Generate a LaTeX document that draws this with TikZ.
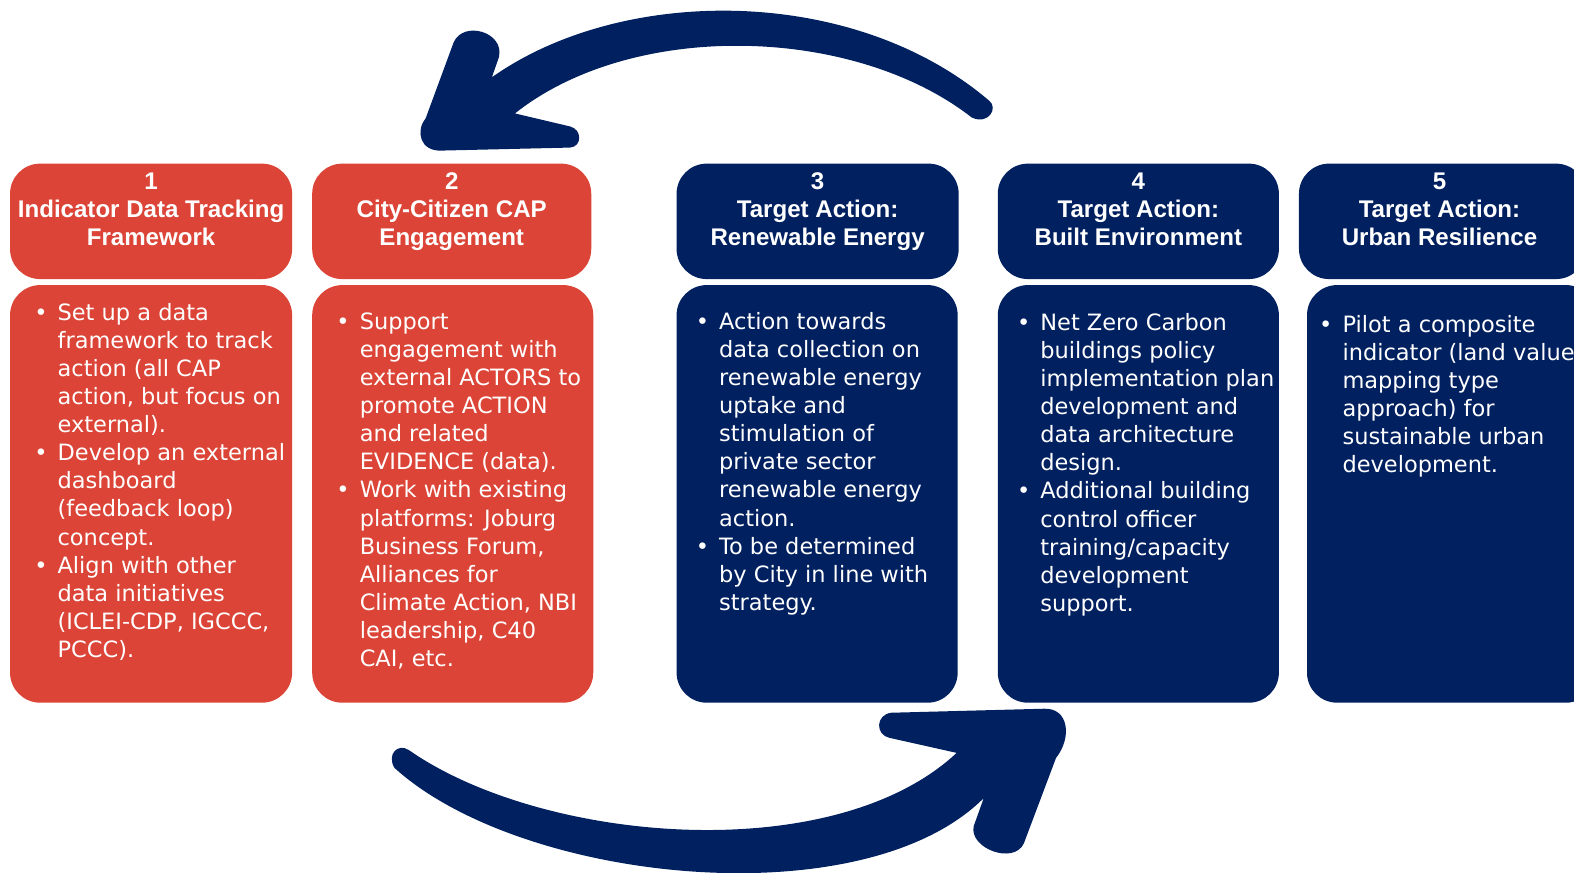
\documentclass[tikz,border=0pt]{standalone}
\usepackage{fontspec}
\setmainfont{DejaVu Sans}
\newfontfamily\hdrfont{Liberation Sans}
\definecolor{capred}{HTML}{DB4436}
\definecolor{capnavy}{HTML}{002060}
\tikzset{
  box/.style={rounded corners=15pt, inner sep=0pt, draw=none},
  redbox/.style={box, fill=capred},
  navybox/.style={box, fill=capnavy},
  hdrtext/.style={text=white, align=center, font=\hdrfont\bfseries\fontsize{12pt}{14pt}\selectfont, inner sep=0pt, anchor=base},
  bodytext/.style={text=white, align=left, font=\fontsize{11.2pt}{14pt}\selectfont, inner sep=0pt, anchor=base west},
  cyclearrow/.style={fill=capnavy, draw=none}
}
\newcommand{\bul}{\llap{\textbullet\hspace{5pt}}}
\begin{document}
\begin{tikzpicture}[x=0.5pt,y=-0.5pt]
\useasboundingbox (0,0) rectangle (1568,869);
\clip (0,0) rectangle (1568,869);
% header boxes
\node[redbox, minimum width=140.5pt, minimum height=57.5pt] (h1) at (150.5,220.5) {};
\node[redbox, minimum width=139pt, minimum height=57.5pt] (h2) at (450,220.5) {};
\node[navybox, minimum width=140.5pt, minimum height=57.5pt] (h3) at (814.5,220.5) {};
\node[navybox, minimum width=140pt, minimum height=57.5pt] (h4) at (1134,220.5) {};
\node[navybox, minimum width=143pt, minimum height=57.5pt] (h5) at (1437,220.5) {};
% body boxes
\node[redbox, minimum width=140.5pt, minimum height=208pt] (b1) at (150.5,492) {};
\node[redbox, minimum width=140pt, minimum height=208pt] (b2) at (451,492) {};
\node[navybox, minimum width=140pt, minimum height=208pt] (b3) at (814,492) {};
\node[navybox, minimum width=140pt, minimum height=208pt] (b4) at (1134,492) {};
\node[navybox, minimum width=144pt, minimum height=208pt] (b5) at (1446,492) {};
% header texts (anchored at the baseline of the last line)
\node[hdrtext] (h1t) at (150.5,244.5) {1\\Indicator Data Tracking\\Framework};
\node[hdrtext] (h2t) at (450,244.5) {2\\City-Citizen CAP\\Engagement};
\node[hdrtext] (h3t) at (814.5,244.5) {3\\Target Action:\\Renewable Energy};
\node[hdrtext] (h4t) at (1134,244.5) {4\\Target Action:\\Built Environment};
\node[hdrtext] (h5t) at (1434,244.5) {5\\Target Action:\\Urban Resilience};
% body texts (anchored at the baseline of the last line)
\node[bodytext] (t1) at (57,655) {\bul Set up a data\\framework to track\\action (all CAP\\action, but focus on\\external).\\\bul Develop an external\\dashboard\\(feedback loop)\\concept.\\\bul Align with other\\data initiatives\\(ICLEI-CDP, IGCCC,\\PCCC).};
\node[bodytext] (t2) at (358,664) {\bul Support\\engagement with\\external ACTORS to\\promote ACTION\\and related\\EVIDENCE (data).\\\bul Work with existing\\platforms: Joburg\\Business Forum,\\Alliances for\\Climate Action, NBI\\leadership, C40\\CAI, etc.};
\node[bodytext] (t3) at (716,608) {\bul Action towards\\data collection on\\renewable energy\\uptake and\\stimulation of\\private sector\\renewable energy\\action.\\\bul To be determined\\by City in line with\\strategy.};
\node[bodytext] (t4) at (1036,609) {\bul Net Zero Carbon\\buildings policy\\implementation plan\\development and\\data architecture\\design.\\\bul Additional building\\control officer\\training/capacity\\development\\support.};
\node[bodytext] (t5) at (1337,471) {\bul Pilot a composite\\indicator (land value\\mapping type\\approach) for\\sustainable urban\\development.};
% top cycle arrow
\fill[cyclearrow] (985,100) .. controls (850,-15) and (620,-15) .. (490,77)
  -- (497,57) .. controls (503,32) and (462,20) .. (452,42)
  -- (424,118) .. controls (414,130) and (418,151) .. (440,150)
  -- (568,147) .. controls (580,146) and (580,129) .. (568,126)
  -- (513,113) .. controls (630,20) and (850,25) .. (968,117)
  .. controls (985,125) and (995,107) .. (985,100) -- cycle;
% bottom cycle arrow
\fill[cyclearrow] (393,765) .. controls (385,752) and (396,740) .. (407,747)
  .. controls (540,840) and (830,865) .. (953,750)
  -- (886,735) .. controls (872,732) and (872,712) .. (888,710)
  -- (1040,706) .. controls (1065,705) and (1068,735) .. (1052,755)
  -- (1020,840) .. controls (1010,862) and (965,845) .. (970,823)
  -- (980,795)
  .. controls (860,915) and (520,880) .. (393,765) -- cycle;
\end{tikzpicture}
\end{document}
